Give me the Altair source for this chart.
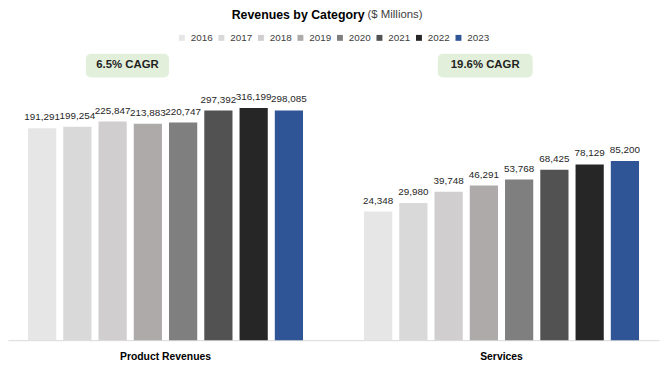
import altair as alt
import pandas as pd

categories = ["Product Revenues", "Services"]
years = ["2016", "2017", "2018", "2019", "2020", "2021", "2022", "2023"]
product_values = [191291, 199254, 225847, 213883, 220747, 297392, 316199, 298085]
services_values = [24348, 29980, 39748, 46291, 53768, 68425, 78129, 85200]
year_colors = ["#e7e6e6", "#d9d9d9", "#d0cece", "#aeaaaa", "#7f7f7f", "#525252", "#262626", "#2f5597"]
cagr_labels = ["6.5% CAGR", "19.6% CAGR"]

rows = []
for cat, vals in zip(categories, [product_values, services_values]):
    for y, v in zip(years, vals):
        rows.append({"category": cat, "year": y, "value": v})
df = pd.DataFrame(rows)

FONT = "Liberation Sans"
W, H = 659, 282

x_enc = alt.X("category:N", sort=categories,
              scale=alt.Scale(paddingInner=0.1815, paddingOuter=0.0595),
              axis=alt.Axis(title=None, labelAngle=0, labelFontWeight="bold", labelFontSize=10.5,
                            labelFont=FONT, labelColor="#000000", labelPadding=12, ticks=False,
                            domainColor="#d9d9d9", domainWidth=1))
y_enc = alt.Y("value:Q", scale=alt.Scale(type="log", domain=[1000, 1000000]), axis=None)
xo_enc = alt.XOffset("year:N", sort=years, scale=alt.Scale(paddingInner=0.2, paddingOuter=0))

base = alt.Chart(df)

bars = base.mark_bar().encode(
    x=x_enc,
    xOffset=xo_enc,
    y=y_enc,
    y2=alt.datum(1000),
    color=alt.Color("year:N", sort=years,
                    scale=alt.Scale(domain=years, range=year_colors),
                    legend=alt.Legend(title=None, orient="none", legendX=171, legendY=-29,
                                      direction="horizontal", symbolType="square", symbolSize=36,
                                      symbolStrokeWidth=0, labelFontSize=10, labelFont=FONT,
                                      labelColor="#404040", columnPadding=3, labelOffset=4,
                                      padding=0)),
)

labels = base.mark_text(dy=-11, baseline="middle", fontSize=10, font=FONT, color="#262626").encode(
    x=alt.X("category:N", sort=categories),
    xOffset=alt.XOffset("year:N", sort=years),
    y=alt.Y("value:Q"),
    text=alt.Text("value:Q", format=",.0f"),
)

layers = [bars, labels]

ann = pd.DataFrame({"category": categories, "label": cagr_labels})
box_dx = [-38.5, -16.5]
box_w = [84, 96]
for i in range(len(categories)):
    sub = alt.Chart(ann.iloc[[i]])
    layers.append(sub.mark_bar(width=box_w[i], xOffset=box_dx[i], cornerRadius=5, color="#e2efda").encode(
        x=alt.X("category:N", sort=categories),
        y=alt.value(-8), y2=alt.value(16)))
    layers.append(sub.mark_text(dx=box_dx[i], fontSize=11.5, fontWeight="bold", font=FONT,
                                color="#1f1f1f", baseline="middle").encode(
        x=alt.X("category:N", sort=categories),
        y=alt.value(4), text="label:N"))

title_df = pd.DataFrame({"a": [1]})
title_bold = alt.Chart(title_df).mark_text(text="Revenues by Category", fontSize=12.5, fontWeight="bold",
                                            font=FONT, color="#000000", align="right",
                                            baseline="middle").encode(
    x=alt.value(361), y=alt.value(-47))
title_reg = alt.Chart(title_df).mark_text(text="($ Millions)", fontSize=11.5, font=FONT,
                                           color="#404040", align="left", baseline="middle").encode(
    x=alt.value(364), y=alt.value(-47))
layers += [title_bold, title_reg]

chart = alt.layer(*layers).properties(
    width=W, height=H,
    background="white",
    autosize=alt.AutoSizeParams(type="none"),
    padding={"left": 0, "top": 52, "right": 1, "bottom": 29},
).configure_view(stroke=None)

chart.save("out.html", embed_options={"renderer": "svg", "actions": False})
